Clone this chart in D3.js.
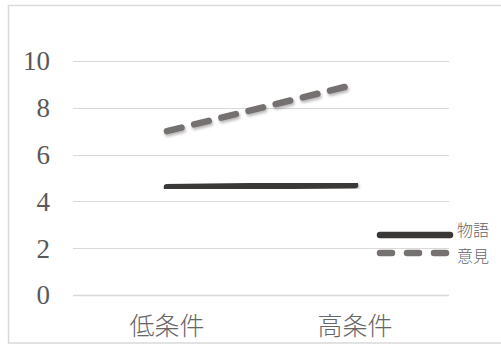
<!DOCTYPE html>
<html>
<head>
<meta charset="utf-8">
<script src="https://cdn.jsdelivr.net/npm/d3@7/dist/d3.min.js"></script>
<style>
  html, body { margin: 0; padding: 0; background: #fff; }
  svg { display: block; }
</style>
</head>
<body>
<svg id="chart" width="501" height="345"></svg>
<script>
// Conditions on the x axis
const categories = ["低条件", "高条件"];
// Series names
const seriesNames = ["物語", "意見"];
// Series values per condition
const storyValues = [4.6, 4.7];
const opinionValues = [7.0, 9.0];
// Y axis ticks
const yTicks = [0, 2, 4, 6, 8, 10];

const svg = d3.select("#chart");
const W = 501, H = 345;

// Outer frame
svg.append("rect")
  .attr("x", 8.5).attr("y", 5.5)
  .attr("width", W).attr("height", 337.5)
  .attr("fill", "#fff").attr("stroke", "#d9d9d9").attr("stroke-width", 1.5);

const plot = { left: 73, right: 449, top: 61, bottom: 295 };

const x = d3.scaleBand().domain(categories).range([plot.left, plot.right]);
const y = d3.scaleLinear().domain([0, 10]).range([plot.bottom, plot.top]);

const defs = svg.append("defs");
const shadow = defs.append("filter").attr("id", "shadow")
  .attr("x", "-10%").attr("y", "-50%").attr("width", "120%").attr("height", "200%");
shadow.append("feDropShadow")
  .attr("dx", 1).attr("dy", 2).attr("stdDeviation", 1.5)
  .attr("flood-color", "#000").attr("flood-opacity", 0.3);

// Gridlines
svg.append("g").selectAll("line").data(yTicks).join("line")
  .attr("x1", plot.left).attr("x2", plot.right)
  .attr("y1", d => Math.round(y(d)) + 0.5).attr("y2", d => Math.round(y(d)) + 0.5)
  .attr("stroke", "#d9d9d9").attr("stroke-width", d => d === 0 ? 1.5 : 1);

// Y axis labels
const yAxis = d3.axisLeft(y).tickValues(yTicks).tickSize(0).tickPadding(0);
const gy = svg.append("g").attr("transform", "translate(50,0)").call(yAxis);
gy.attr("font-family", null).attr("font-size", null);
gy.select(".domain").remove();
gy.selectAll("text")
  .style("font-family", "'Liberation Serif', 'Times New Roman', serif")
  .style("font-size", "27px").attr("fill", "#595959").attr("dy", "0.33em");

// X axis labels
const xAxis = d3.axisBottom(x).tickSize(0).tickPadding(0);
const gx = svg.append("g").attr("transform", "translate(0,317)").call(xAxis);
gx.attr("font-family", null).attr("font-size", null);
gx.select(".domain").remove();
gx.selectAll("text")
  .style("font-family", "'Noto Sans CJK JP', 'Noto Sans CJK SC', sans-serif")
  .style("font-weight", 300)
  .style("font-size", "25px").attr("fill", "#666").attr("dy", "0.7em");

const series = [
  { name: seriesNames[0], values: storyValues, color: "#3b3838", dash: null },
  { name: seriesNames[1], values: opinionValues, color: "#767171", dash: "15,13" }
];

const line = d3.line()
  .x((d, i) => x(categories[i]) + x.bandwidth() / 2)
  .y(d => y(d));

svg.append("g").selectAll("path").data(series).join("path")
  .attr("d", d => line(d.values))
  .attr("fill", "none")
  .attr("stroke", d => d.color)
  .attr("stroke-width", 6.5)
  .attr("stroke-linecap", "round")
  .attr("stroke-dasharray", d => d.dash)
  .attr("filter", "url(#shadow)");

// Legend
const legend = svg.append("g");
const legendY = [230, 256];
const legendLineY = [235, 253];
series.forEach((s, i) => {
  legend.append("line")
    .attr("x1", 380).attr("x2", 450)
    .attr("y1", legendLineY[i]).attr("y2", legendLineY[i])
    .attr("stroke", s.color).attr("stroke-width", 6.5)
    .attr("stroke-linecap", "round")
    .attr("stroke-dasharray", s.dash ? "12,15" : null);
  legend.append("text")
    .attr("x", 457).attr("y", legendY[i]).attr("dy", "0.36em")
    .style("font-family", "'Noto Sans CJK JP', 'Noto Sans CJK SC', sans-serif")
    .style("font-weight", 300)
    .style("font-size", "16px").attr("fill", "#666")
    .text(s.name);
});
</script>
</body>
</html>
